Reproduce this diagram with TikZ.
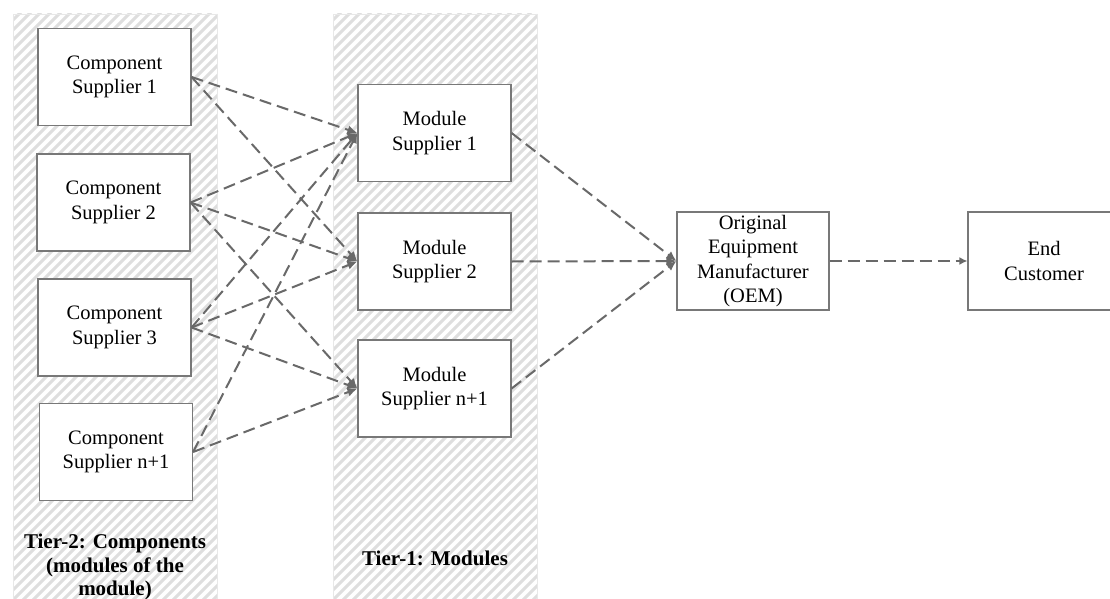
\documentclass[tikz,border=0pt]{standalone}
\usepackage{fontspec}
\setmainfont{Liberation Serif}
\usetikzlibrary{arrows.meta}
\definecolor{boxline}{RGB}{120,120,120}
\definecolor{arrowc}{RGB}{105,105,105}
\definecolor{hatchc}{RGB}{222,222,222}
\definecolor{panelc}{RGB}{232,232,232}
\tikzset{
  sbox/.style={draw=boxline, line width=1.2pt, fill=white, align=center,
    minimum width=153pt, minimum height=97pt, inner sep=0pt,
    font=\fontsize{20.5}{24.5}\selectfont},
  flow/.style={draw=arrowc, line width=2pt, dash pattern=on 12pt off 6pt,
    -{Latex[length=10pt,width=9pt]}},
  tierlabel/.style={align=center, font=\fontsize{21}{23.5}\selectfont\bfseries},
}
\begin{document}
\begin{tikzpicture}[x=1pt,y=-1pt]
\useasboundingbox (0,0) rectangle (1110,599);
\clip (0,0) rectangle (1110,599);
\fill[white] (0,0) rectangle (1110,599);
% hatched panels
\foreach \xa/\xb in {13/217,333/537}{
  \begin{scope}
    \clip (\xa,14) rectangle (\xb,610);
    \foreach \k in {-620,-610,...,220}{
      \draw[hatchc, line width=3pt] (\xa+\k,610) -- (\xa+\k+600,10);
    }
  \end{scope}
  \draw[panelc, line width=0.8pt] (\xa,610) -- (\xa,14) -- (\xb,14) -- (\xb,610);
}
% component suppliers
\node[sbox] (cs1) at (114.5,77) {Component\\Supplier 1};
\node[sbox] (cs2) at (113.5,202.5) {Component\\Supplier 2};
\node[sbox] (cs3) at (114.5,327.5) {Component\\Supplier 3};
\node[sbox] (cs4) at (116,452) {Component\\Supplier n+1};
% module suppliers
\node[sbox] (ms1) at (434.5,133) {Module\\Supplier 1};
\node[sbox] (ms2) at (434.5,261.5) {Module\\Supplier 2};
\node[sbox] (ms3) at (434.5,388.5) {Module\\Supplier n+1};
% OEM and customer
\node[sbox, minimum width=152pt, minimum height=98pt] (oem) at (753,261) {Original\\Equipment\\Manufacturer\\(OEM)};
\node[sbox, minimum width=152pt, minimum height=98pt] (ec) at (1044,261) {End\\Customer};
% labels
\node[tierlabel] (t2) at (115,567) {Tier-2: Components\\(modules of the\\module)};
\node[tierlabel] (t1) at (435,558) {Tier-1: Modules};
% connectors
\draw[flow] (cs1.east) -- (ms1.west);
\draw[flow] (cs1.east) -- (ms2.west);
\draw[flow] (cs2.east) -- (ms1.west);
\draw[flow] (cs2.east) -- (ms2.west);
\draw[flow] (cs2.east) -- (ms3.west);
\draw[flow] (cs3.east) -- (ms1.west);
\draw[flow] (cs3.east) -- (ms2.west);
\draw[flow] (cs3.east) -- (ms3.west);
\draw[flow] (cs4.east) -- (ms1.west);
\draw[flow] (cs4.east) -- (ms3.west);
\draw[flow] (ms1.east) -- (oem.west);
\draw[flow] (ms2.east) -- (oem.west);
\draw[flow] (ms3.east) -- (oem.west);
\draw[flow, -{Latex[length=8pt,width=8pt]}] (oem.east) -- (ec.west);
\end{tikzpicture}
\end{document}
